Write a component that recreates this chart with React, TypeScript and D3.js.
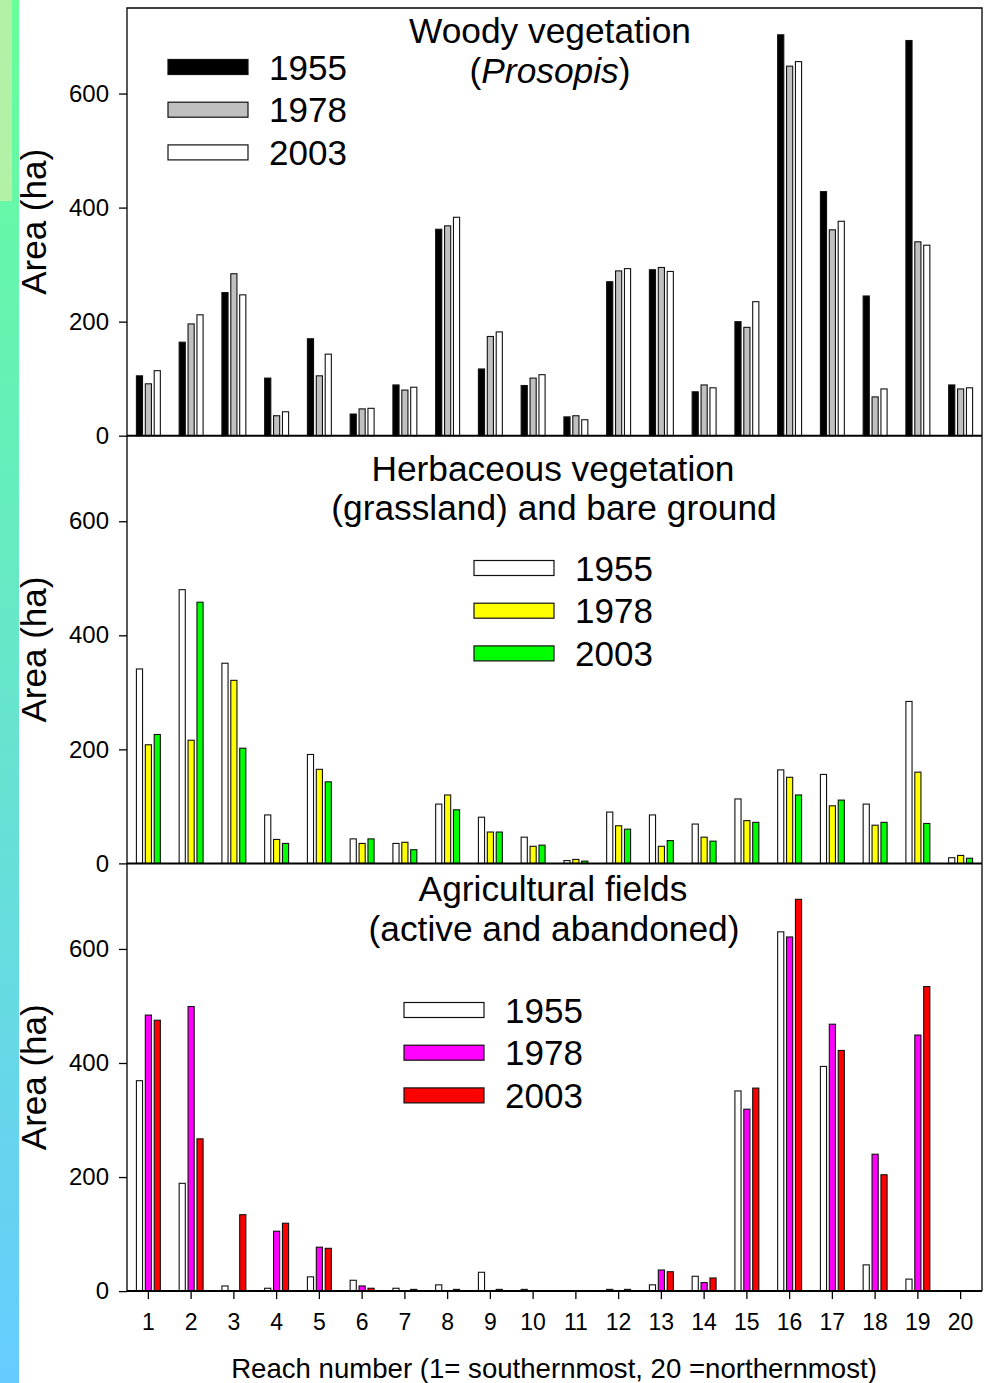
import * as d3 from 'd3';
import { useEffect, useRef } from 'react';

// reach numbers 1..20 (south -> north)
const reaches = d3.range(1, 21).map(String);
const years = ['1955', '1978', '2003'];
const yTicks = [0, 200, 400, 600];

const woody1955 = [105, 164, 251, 101, 170, 38, 89, 362, 117, 88, 33, 270, 291, 77, 200, 703, 428, 245, 693, 89];
const woody1978 = [91, 196, 284, 35, 105, 47, 80, 368, 174, 101, 35, 289, 295, 89, 190, 648, 361, 68, 340, 82];
const woody2003 = [114, 212, 247, 42, 143, 48, 85, 383, 182, 107, 28, 293, 288, 84, 235, 656, 376, 82, 334, 84];

const herb1955 = [341, 480, 351, 85, 191, 43, 35, 104, 81, 46, 5, 90, 85, 69, 113, 164, 156, 104, 284, 10];
const herb1978 = [208, 216, 321, 42, 165, 35, 37, 120, 55, 30, 7, 66, 30, 46, 75, 151, 101, 67, 160, 14];
const herb2003 = [226, 458, 202, 35, 143, 43, 24, 94, 55, 32, 4, 60, 40, 39, 72, 120, 111, 72, 70, 9];

const agri1955 = [369, 189, 9, 5, 25, 19, 5, 11, 33, 3, 1, 3, 11, 26, 351, 630, 394, 46, 21, 0];
const agri1978 = [484, 499, 0, 105, 77, 9, 0, 0, 0, 0, 0, 0, 37, 15, 319, 621, 468, 240, 449, 0];
const agri2003 = [475, 267, 134, 119, 75, 5, 3, 3, 3, 0, 1, 3, 34, 23, 356, 687, 422, 204, 534, 1];

const FONT = '"Liberation Sans", Arial, sans-serif';

const panels = [
  {
    title: ['Woody vegetation', null],
    titleY: [35, 75],
    series: [woody1955, woody1978, woody2003],
    colors: ['#000000', '#c0c0c0', '#ffffff'],
    legendX: 168,
    legendY: 67,
  },
  {
    title: ['Herbaceous vegetation', '(grassland) and bare ground'],
    titleY: [45, 84],
    series: [herb1955, herb1978, herb2003],
    colors: ['#ffffff', '#ffff00', '#00ff00'],
    legendX: 474,
    legendY: 568,
  },
  {
    title: ['Agricultural fields', '(active and abandoned)'],
    titleY: [38, 78],
    series: [agri1955, agri1978, agri2003],
    colors: ['#ffffff', '#ff00ff', '#ff0000'],
    legendX: 404,
    legendY: 1010,
  },
];

const App = () => {
  const width = 990;
  const height = 1383;
  const left = 127;
  const right = 982;
  const top = 8;
  const panelH = 427.7;

  const svgRef = useRef<SVGSVGElement>(null);

  useEffect(() => {
    const svg = d3.select(svgRef.current);
    svg.selectAll('*').remove();

    // coloured strip on the left edge
    const grad = svg.append('defs').append('linearGradient')
      .attr('id', 'strip').attr('x1', 0).attr('y1', 0).attr('x2', 0).attr('y2', 1);
    grad.append('stop').attr('offset', '0%').attr('stop-color', '#66ff99');
    grad.append('stop').attr('offset', '100%').attr('stop-color', '#66ccff');
    svg.append('rect').attr('x', 0).attr('y', 0).attr('width', 19).attr('height', height).attr('fill', 'url(#strip)');
    svg.append('rect').attr('x', 0).attr('y', 0).attr('width', 12).attr('height', 201).attr('fill', '#b3f2a6');

    const x0 = d3.scaleBand().domain(reaches).range([left, right]).padding(0);
    const bw = x0.bandwidth();
    const x1 = d3.scaleBand().domain(years).range([bw * 0.22, bw * 0.78]).paddingInner(0.31);

    panels.forEach((p, i) => {
      const y0 = top + i * panelH;
      const y = d3.scaleLinear().domain([0, 750]).range([y0 + panelH, y0]);
      const g = svg.append('g');

      // bars
      years.forEach((yr, s) => {
        g.selectAll(null)
          .data(p.series[s].map((v, k) => ({ r: reaches[k], v })).filter(d => d.v > 0))
          .enter().append('rect')
          .attr('x', d => (x0(d.r) as number) + (x1(yr) as number))
          .attr('y', d => y(d.v))
          .attr('width', x1.bandwidth())
          .attr('height', d => y(0) - y(d.v))
          .attr('fill', p.colors[s])
          .attr('stroke', '#111')
          .attr('stroke-width', 1.1);
      });

      // y axis
      const yAxis = d3.axisLeft(y).tickValues(yTicks).tickSize(8).tickPadding(10).tickFormat(d3.format('d'));
      const ya = g.append('g').attr('transform', `translate(${left},0)`).call(yAxis);
      ya.select('.domain').remove();
      ya.selectAll('line').attr('stroke', '#000').attr('stroke-width', 1.3);
      ya.selectAll('text').attr('font-size', 24).attr('font-family', FONT).attr('fill', '#000');

      // baseline of panel
      g.append('line').attr('x1', left).attr('x2', right).attr('y1', y(0)).attr('y2', y(0))
        .attr('stroke', '#000').attr('stroke-width', 2);

      // y title
      g.append('text')
        .attr('transform', `translate(46,${y0 + panelH / 2}) rotate(-90)`)
        .attr('text-anchor', 'middle')
        .attr('font-family', FONT).attr('font-size', 35)
        .text('Area (ha)');

      // panel title
      g.append('text').attr('x', i === 0 ? 550 : 553).attr('y', y0 + p.titleY[0])
        .attr('text-anchor', 'middle').attr('font-family', FONT).attr('font-size', 35.3)
        .text(p.title[0]);
      const t2 = g.append('text').attr('x', i === 0 ? 550 : 554).attr('y', y0 + p.titleY[1])
        .attr('text-anchor', 'middle').attr('font-family', FONT).attr('font-size', 35.3);
      if (p.title[1]) {
        t2.text(p.title[1]);
      } else {
        t2.append('tspan').text('(');
        t2.append('tspan').attr('font-style', 'italic').text('Prosopis');
        t2.append('tspan').text(')');
      }

      // legend
      years.forEach((yr, s) => {
        const cy = p.legendY + s * 42.7;
        g.append('rect').attr('x', p.legendX).attr('y', cy - 7.5).attr('width', 80).attr('height', 15)
          .attr('fill', p.colors[s]).attr('stroke', '#111').attr('stroke-width', 1.2);
        g.append('text').attr('x', p.legendX + 101).attr('y', cy + 12.5)
          .attr('font-family', FONT).attr('font-size', 35).text(yr);
      });
    });

    // frame
    const bottom = top + 3 * panelH;
    svg.append('path')
      .attr('d', `M${left},${bottom}V${top}H${right}V${bottom}`)
      .attr('fill', 'none').attr('stroke', '#000').attr('stroke-width', 1.3);

    // x axis at the bottom
    const xAxis = d3.axisBottom(x0).tickSize(8).tickPadding(15);
    const xa = svg.append('g').attr('transform', `translate(0,${bottom})`).call(xAxis);
    xa.select('.domain').remove();
    xa.selectAll('line').attr('stroke', '#000').attr('stroke-width', 1.3);
    xa.selectAll('text').attr('font-size', 23).attr('font-family', FONT).attr('fill', '#000');

    svg.append('text').attr('x', 554).attr('y', 1378)
      .attr('text-anchor', 'middle').attr('font-family', FONT).attr('font-size', 27.6)
      .text('Reach number (1= southernmost, 20 =northernmost)');
  }, []);

  return (
    <svg ref={svgRef} width={width} height={height}
      style={{ position: 'absolute', left: 0, top: 0, background: '#fff' }} />
  );
};

export default App;
